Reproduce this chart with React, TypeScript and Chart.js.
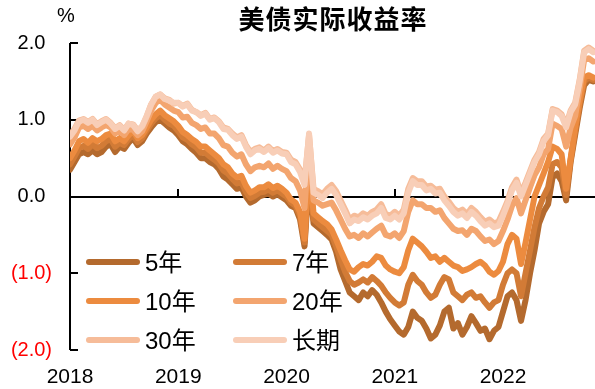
import React, { useEffect, useRef } from "react";
import { Chart, registerables } from "chart.js";

Chart.register(...registerables);

// ---- data (semi-monthly readings, 2018-01 .. 2022-10) ----
const startYear = 2018;
const stepsPerYear = 24;
const xMax = 2022.85;
const yearTicks = [2018, 2019, 2020, 2021, 2022];
const yTicks = [-2, -1, 0, 1, 2];
const seriesNames = ["5年", "7年", "10年", "20年", "30年", "长期"];
const seriesColors = ["#B46A2E", "#D27B36", "#EC8B3F", "#F3A56F", "#F6BC99", "#F8CEB7"];
const title = "美债实际收益率";
const unit = "%";

const y5 = [
  0.35, 0.45, 0.55, 0.58, 0.55, 0.6, 0.55, 0.58, 0.65, 0.68, 0.58, 0.65,
  0.62, 0.7, 0.76, 0.67, 0.72, 0.82, 0.9, 0.97, 1.0, 0.95, 0.9, 0.86,
  0.8, 0.72, 0.68, 0.62, 0.57, 0.5, 0.5, 0.45, 0.42, 0.36, 0.26, 0.22,
  0.16, 0.1, 0.12, 0.0, -0.08, -0.05, 0.0, 0.02, 0.04, 0.0, 0.03, -0.01,
  -0.05, -0.12, -0.15, -0.3, -0.65, 0.25, -0.35, -0.4, -0.45, -0.5, -0.56, -0.72,
  -0.95, -1.1, -1.25, -1.3, -1.35, -1.25, -1.3, -1.22, -1.28, -1.38, -1.5, -1.6,
  -1.68, -1.76, -1.8, -1.7, -1.5, -1.58, -1.62, -1.72, -1.85, -1.8, -1.68, -1.5,
  -1.45, -1.72, -1.65, -1.8, -1.7, -1.56, -1.65, -1.75, -1.72, -1.86, -1.75, -1.7,
  -1.5, -1.3, -1.25, -1.35, -1.62, -1.35, -1.0, -0.7, -0.35, -0.2, -0.1, 0.25,
  0.3, 0.2, -0.05, 0.45, 0.8, 1.15, 1.45, 1.52, 1.5,
];
const y7 = [
  0.42, 0.52, 0.63, 0.66, 0.62, 0.68, 0.63, 0.66, 0.72, 0.75, 0.65, 0.7,
  0.67, 0.75, 0.8, 0.71, 0.76, 0.86, 0.95, 1.02, 1.06, 1.0, 0.95, 0.92,
  0.85, 0.77, 0.74, 0.68, 0.64, 0.57, 0.57, 0.52, 0.48, 0.43, 0.34, 0.3,
  0.23, 0.17, 0.19, 0.06, -0.02, 0.01, 0.05, 0.06, 0.09, 0.05, 0.08, 0.04,
  0.0, -0.08, -0.12, -0.25, -0.6, 0.35, -0.3, -0.35, -0.4, -0.45, -0.5, -0.65,
  -0.82, -0.98, -1.1, -1.15, -1.12, -1.08, -1.12, -1.05, -1.1, -1.16, -1.25, -1.32,
  -1.38, -1.42, -1.38, -1.15, -1.02, -1.1, -1.15, -1.25, -1.32, -1.28, -1.15, -1.05,
  -1.08, -1.25, -1.3, -1.35, -1.28, -1.25, -1.32, -1.3, -1.38, -1.45, -1.38, -1.35,
  -1.15, -1.0, -0.95, -1.0, -1.3, -1.0, -0.7, -0.4, -0.15, 0.0, 0.12, 0.42,
  0.45, 0.38, 0.02, 0.48, 0.85, 1.2, 1.5, 1.55, 1.52,
];
const y10 = [
  0.5, 0.6, 0.72, 0.75, 0.7, 0.76, 0.72, 0.75, 0.8, 0.82, 0.72, 0.76,
  0.72, 0.8, 0.85, 0.76, 0.8, 0.9, 1.0, 1.07, 1.12, 1.06, 1.02, 0.98,
  0.92, 0.84, 0.8, 0.75, 0.71, 0.65, 0.65, 0.6, 0.55, 0.5, 0.42, 0.38,
  0.3, 0.25, 0.27, 0.14, 0.05, 0.08, 0.12, 0.12, 0.16, 0.11, 0.14, 0.1,
  0.05, -0.04, -0.08, -0.2, -0.55, 0.45, -0.22, -0.27, -0.32, -0.36, -0.43, -0.56,
  -0.7, -0.83, -0.95, -0.98, -0.92, -0.88, -0.9, -0.85, -0.78, -0.8, -0.9, -0.95,
  -0.98, -1.0, -0.92, -0.7, -0.55, -0.6, -0.65, -0.72, -0.8, -0.78, -0.85, -0.8,
  -0.85, -0.9, -0.92, -0.97, -0.95, -0.92, -0.88, -0.85, -0.9, -0.98, -1.02, -0.97,
  -0.85, -0.62, -0.5, -0.55, -0.88, -0.6, -0.3, 0.0, 0.15, 0.3, 0.45, 0.65,
  0.62, 0.55, 0.1, 0.5, 0.9, 1.25, 1.55, 1.58, 1.55,
];
const y20 = [
  0.68, 0.77, 0.9, 0.92, 0.88, 0.92, 0.86, 0.9, 0.93, 0.9, 0.82, 0.86,
  0.8, 0.88, 0.87, 0.8, 0.85, 0.98, 1.12, 1.22, 1.26, 1.2, 1.16, 1.12,
  1.1, 1.03, 1.04, 0.96, 0.93, 0.88, 0.9, 0.82, 0.82, 0.76, 0.67, 0.65,
  0.57, 0.52, 0.55, 0.42, 0.33, 0.38, 0.4, 0.38, 0.43, 0.36, 0.4, 0.36,
  0.33, 0.24, 0.2, 0.08, -0.15, 0.7, -0.05, -0.08, -0.12, -0.1, -0.08, -0.18,
  -0.3, -0.42, -0.52, -0.5, -0.54, -0.48, -0.52, -0.47, -0.42, -0.38, -0.5, -0.52,
  -0.48, -0.54, -0.45, -0.2, -0.05, -0.1, -0.1, -0.15, -0.15, -0.2, -0.18, -0.28,
  -0.35, -0.42, -0.45, -0.44, -0.5, -0.42, -0.45, -0.52, -0.58, -0.56, -0.62, -0.58,
  -0.45, -0.3, -0.12, -0.02, -0.22, -0.05, 0.12, 0.28, 0.38, 0.55, 0.62, 0.95,
  0.92, 0.88, 0.65, 0.9, 1.05, 1.4, 1.78, 1.8, 1.76,
];
const y30 = [
  0.8, 0.88, 0.99, 1.01, 0.97, 1.01, 0.94, 0.98, 1.01, 0.96, 0.89, 0.93,
  0.87, 0.95, 0.94, 0.86, 0.91, 1.04, 1.2, 1.3, 1.33, 1.28, 1.26, 1.21,
  1.22, 1.18, 1.21, 1.13, 1.1, 1.06, 1.09, 1.01, 1.03, 0.98, 0.9, 0.88,
  0.82, 0.77, 0.8, 0.67, 0.58, 0.62, 0.64, 0.6, 0.65, 0.59, 0.62, 0.58,
  0.57, 0.48, 0.45, 0.35, 0.2, 0.8, 0.1, 0.07, 0.03, 0.1, 0.15, 0.07,
  -0.05, -0.17, -0.3, -0.25, -0.27, -0.22, -0.25, -0.2, -0.17, -0.1, -0.23, -0.25,
  -0.2, -0.25, -0.17, 0.1, 0.24, 0.2, 0.2, 0.13, 0.14, 0.09, 0.1, 0.0,
  -0.07, -0.15, -0.2, -0.17, -0.23, -0.15, -0.2, -0.27, -0.33, -0.3, -0.35, -0.33,
  -0.2, -0.06, 0.12, 0.22, 0.04, 0.18, 0.33, 0.48, 0.58, 0.75, 0.82, 1.14,
  1.12, 1.07, 0.93, 1.12, 1.22, 1.52, 1.9, 1.94, 1.9,
];
const yLong = [
  0.78, 0.86, 0.98, 1.0, 0.96, 1.0, 0.93, 0.97, 1.0, 0.95, 0.88, 0.92,
  0.86, 0.95, 0.93, 0.85, 0.92, 1.05, 1.2, 1.3, 1.33, 1.27, 1.25, 1.22,
  1.22, 1.17, 1.2, 1.12, 1.1, 1.05, 1.08, 1.0, 1.02, 0.97, 0.88, 0.87,
  0.8, 0.75, 0.78, 0.65, 0.55, 0.6, 0.62, 0.58, 0.63, 0.57, 0.6, 0.56,
  0.55, 0.45, 0.42, 0.32, 0.15, 0.82, 0.05, 0.02, -0.02, 0.05, 0.1, 0.02,
  -0.1, -0.22, -0.35, -0.3, -0.32, -0.27, -0.3, -0.25, -0.22, -0.15, -0.28, -0.3,
  -0.25, -0.3, -0.22, 0.05, 0.2, 0.15, 0.15, 0.08, 0.1, 0.04, 0.05, -0.05,
  -0.12, -0.2, -0.25, -0.22, -0.28, -0.2, -0.25, -0.32, -0.38, -0.35, -0.4, -0.38,
  -0.25, -0.1, 0.08, 0.18, 0.0, 0.15, 0.3, 0.45, 0.55, 0.72, 0.8, 1.12,
  1.1, 1.05, 0.9, 1.1, 1.2, 1.5, 1.88, 1.92, 1.88,
];

const FONT = "'Liberation Sans', Arial, 'Noto Sans CJK SC', sans-serif";

const fmtY = (v: number) => (v < 0 ? `(${Math.abs(v).toFixed(1)})` : v.toFixed(1));

const decorPlugin = {
  id: "decor",
  beforeDatasetsDraw(chart: any) {
    const { ctx, chartArea, scales } = chart;
    const x = scales.x;
    const y = scales.y;
    ctx.save();
    ctx.strokeStyle = "#000";
    ctx.lineWidth = 2;
    ctx.lineCap = "butt";
    ctx.beginPath();
    ctx.moveTo(chartArea.left, chartArea.top);
    ctx.lineTo(chartArea.left, chartArea.bottom);
    ctx.stroke();
    yTicks.forEach((v) => {
      const py = Math.round(y.getPixelForValue(v));
      ctx.beginPath();
      ctx.moveTo(chartArea.left, py);
      ctx.lineTo(chartArea.left + 8, py);
      ctx.stroke();
    });
    const zy = Math.round(y.getPixelForValue(0));
    ctx.beginPath();
    ctx.moveTo(chartArea.left, zy);
    ctx.lineTo(chartArea.right, zy);
    ctx.stroke();
    yearTicks.forEach((yr) => {
      const px = Math.round(x.getPixelForValue(yr));
      ctx.beginPath();
      ctx.moveTo(px, zy);
      ctx.lineTo(px, zy - 8);
      ctx.stroke();
    });
    ctx.restore();
  },
  afterDraw(chart: any) {
    const { ctx } = chart;
    ctx.save();
    ctx.fillStyle = "#000";
    ctx.font = `bold 26px ${FONT}`;
    ctx.textAlign = "center";
    ctx.textBaseline = "middle";
    try { (ctx as any).letterSpacing = "1px"; } catch (e) {}
    ctx.fillText(title, 333, 22);
    try { (ctx as any).letterSpacing = "0px"; } catch (e) {}
    ctx.font = `20px ${FONT}`;
    ctx.fillText(unit, 66, 16);
    const cols = [86, 233];
    const rows = [262, 301, 340];
    ctx.lineCap = "round";
    ctx.lineWidth = 6;
    ctx.font = `24px ${FONT}`;
    ctx.textAlign = "left";
    seriesNames.forEach((name, k) => {
      const cx = cols[k % 2];
      const cy = rows[Math.floor(k / 2)];
      ctx.strokeStyle = seriesColors[k];
      ctx.beginPath();
      ctx.moveTo(cx + 3, cy);
      ctx.lineTo(cx + 51, cy);
      ctx.stroke();
      ctx.fillStyle = "#000";
      ctx.fillText(name, cx + 59, cy + 2);
    });
    ctx.restore();
  },
};

export default function App() {
  const ref = useRef<HTMLCanvasElement>(null);
  useEffect(() => {
    if (!ref.current) return;
    const all = [y5, y7, y10, y20, y30, yLong];
    const datasets = all.map((arr, k) => ({
      label: seriesNames[k],
      data: arr.map((v, i) => ({ x: startYear + i / stepsPerYear, y: v })),
      borderColor: seriesColors[k],
      backgroundColor: seriesColors[k],
      borderWidth: 6,
      pointRadius: 0,
      pointHoverRadius: 0,
      tension: 0,
      borderJoinStyle: "round" as const,
      borderCapStyle: "round" as const,
      fill: false,
      order: all.length - 1 - k,
    }));
    const chart = new Chart(ref.current, {
      type: "line",
      data: { datasets },
      options: {
        animation: false,
        responsive: false,
        devicePixelRatio: 1,
        layout: { padding: { top: 43, left: 0, right: 0, bottom: 0 } },
        plugins: {
          legend: { display: false },
          title: { display: false },
          tooltip: { enabled: false },
        },
        scales: {
          x: {
            type: "linear",
            min: startYear,
            max: xMax,
            grid: { display: false, drawTicks: false },
            border: { display: false },
            afterBuildTicks: (s: any) => {
              s.ticks = yearTicks.map((v) => ({ value: v }));
            },
            afterFit: (s: any) => {
              s.height = 39;
            },
            ticks: {
              autoSkip: false,
              maxRotation: 0,
              padding: 15,
              color: "#000",
              font: { family: FONT, size: 21 },
              callback: (v: any) => String(v),
            },
          },
          y: {
            min: -2,
            max: 2,
            grid: { display: false, drawTicks: false },
            border: { display: false },
            afterBuildTicks: (s: any) => {
              s.ticks = yTicks.map((v) => ({ value: v }));
            },
            afterFit: (s: any) => {
              s.width = 70;
            },
            ticks: {
              crossAlign: "center",
              padding: 18,
              font: { family: FONT, size: 20 },
              color: (c: any) => (c.tick && c.tick.value < 0 ? "#FF0000" : "#000000"),
              callback: (v: any) => fmtY(Number(v)),
            },
          },
        },
      },
      plugins: [decorPlugin],
    } as any);
    return () => chart.destroy();
  }, []);
  return (
    <div style={{ position: "absolute", left: 0, top: 0, width: 595, height: 389, background: "#fff" }}>
      <canvas ref={ref} width={595} height={389} style={{ display: "block" }} />
    </div>
  );
}
